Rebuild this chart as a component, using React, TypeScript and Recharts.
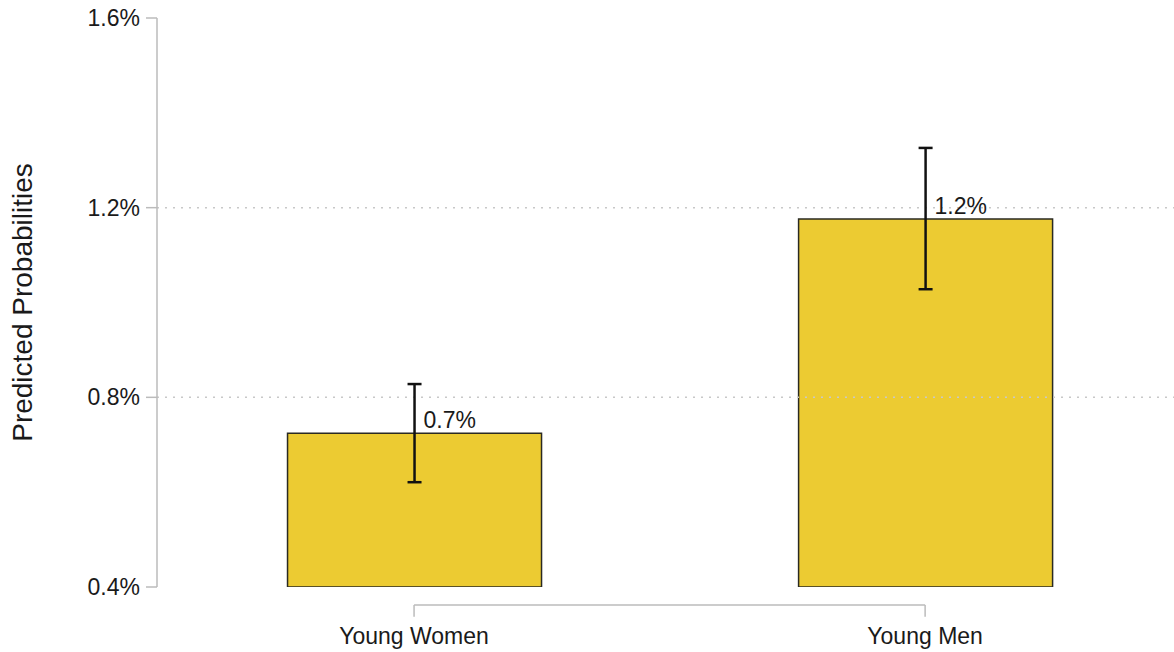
import React from "react";
import {
  BarChart,
  Bar,
  XAxis,
  YAxis,
  ErrorBar,
  LabelList,
  ReferenceLine,
} from "recharts";

// groups and predicted probabilities (%) with 95% CI bounds
const groups = ["Young Women", "Young Men"];
const predicted = [0.724, 1.176];
const ciLower = [0.621, 1.028];
const ciUpper = [0.828, 1.326];
const yTicks = [0.4, 0.8, 1.2, 1.6];

const FONT = "'Liberation Sans', Arial, sans-serif";
const TEXT = "#1a1a1a";
const AXIS = "#bbbbbb";
const BAR_FILL = "#ECCB32";

// bracket under the categories sits a little below the plot floor
const BRACKET_Y = 0.362;
const BRACKET_TICK_Y = 0.337;

const data = groups.map((g, i) => ({
  pos: i,
  group: g,
  prob: predicted[i],
  ci: [predicted[i] - ciLower[i], ciUpper[i] - predicted[i]],
}));

const renderValueLabel = (props: any) => {
  const { x, y, width, value } = props;
  return (
    <text
      x={Number(x) + Number(width) / 2 + 9}
      y={Number(y) - 5}
      fontSize={23}
      fontFamily={FONT}
      fill={TEXT}
      textAnchor="start"
    >
      {`${Number(value).toFixed(1)}%`}
    </text>
  );
};

export default function App() {
  return (
    <div style={{ position: "absolute", left: 0, top: 0, background: "#fff" }}>
      <BarChart
        width={1174}
        height={652}
        data={data}
        margin={{ top: 18, right: 0, bottom: 0, left: 0 }}
      >
        <XAxis
          type="number"
          dataKey="pos"
          domain={[-0.503, 1.487]}
          allowDataOverflow
          ticks={[0, 1]}
          tickFormatter={(v: number) => groups[v] ?? ""}
          axisLine={false}
          tickLine={false}
          tickSize={0}
          tickMargin={41}
          height={65}
          tick={{ fill: TEXT, fontSize: 23, fontFamily: FONT }}
        />
        <YAxis
          type="number"
          domain={[0.4, 1.6]}
          ticks={yTicks}
          allowDataOverflow
          width={157}
          tickFormatter={(v: number) => `${v.toFixed(1)}%`}
          axisLine={{ stroke: AXIS, strokeWidth: 1.5 }}
          tickLine={{ stroke: AXIS, strokeWidth: 1.5 }}
          tickSize={11}
          tickMargin={6}
          tick={{ fill: TEXT, fontSize: 23, fontFamily: FONT }}
          label={{
            value: "Predicted Probabilities",
            angle: -90,
            position: "insideLeft",
            offset: 22,
            style: {
              textAnchor: "middle",
              fontSize: 28,
              fontFamily: FONT,
              fill: TEXT,
            },
          }}
        />
        {[0.8, 1.2].map((v) => (
          <ReferenceLine
            key={v}
            y={v}
            stroke="#c8c8c8"
            strokeWidth={1.5}
            strokeDasharray="2 6"
          />
        ))}
        {/* category bracket */}
        <ReferenceLine
          segment={[
            { x: 0, y: BRACKET_Y },
            { x: 1, y: BRACKET_Y },
          ]}
          ifOverflow="visible"
          stroke={AXIS}
          strokeWidth={1.5}
        />
        {[0, 1].map((p) => (
          <ReferenceLine
            key={p}
            segment={[
              { x: p, y: BRACKET_Y },
              { x: p, y: BRACKET_TICK_Y },
            ]}
            ifOverflow="visible"
            stroke={AXIS}
            strokeWidth={1.5}
          />
        ))}
        <Bar
          dataKey="prob"
          barSize={254}
          fill={BAR_FILL}
          stroke="#2a2a22"
          strokeWidth={1.5}
          isAnimationActive={false}
        >
          <ErrorBar
            dataKey="ci"
            direction="y"
            width={7}
            stroke="#111"
            strokeWidth={2.5}
          />
          <LabelList dataKey="prob" content={renderValueLabel} />
        </Bar>
      </BarChart>
    </div>
  );
}
